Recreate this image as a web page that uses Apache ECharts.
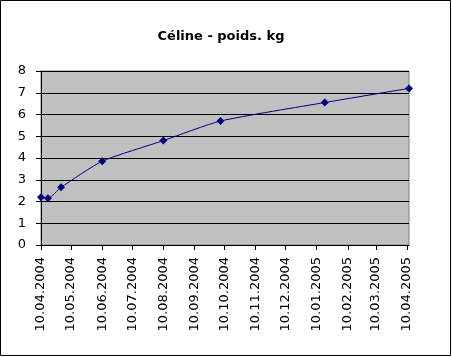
<!DOCTYPE html>
<html>
<head>
<meta charset="utf-8">
<script src="https://cdn.jsdelivr.net/npm/echarts@6/dist/echarts.min.js"></script>
<style>html,body{margin:0;padding:0;background:#fff}#c{width:452px;height:357px}</style>
</head>
<body>
<div id="c"></div>
<script>
const titleText = 'Céline - poids. kg';
const measureDates = ['10.04.2004','17.04.2004','30.04.2004','10.06.2004','10.08.2004','06.10.2004','18.01.2005','12.04.2005'];
const weights = [2.2, 2.15, 2.65, 3.85, 4.8, 5.7, 6.55, 7.2];
const tickLabels = ['10.04.2004','10.05.2004','10.06.2004','10.07.2004','10.08.2004','10.09.2004','10.10.2004','10.11.2004','10.12.2004','10.01.2005','10.02.2005','10.03.2005','10.04.2005'];
const axisMinDate = '10.04.2004';
const axisMaxDate = '12.04.2005';

const DAY = 86400000;
function parseD(s){ const p = s.split('.'); return Date.UTC(+p[2], +p[1]-1, +p[0]) / DAY; }
function fmt(v){ const d = new Date(Math.round(v) * DAY); const pad = n => (n<10?'0':'')+n; return pad(d.getUTCDate())+'.'+pad(d.getUTCMonth()+1)+'.'+d.getUTCFullYear(); }

const tickVals = tickLabels.map(parseD);
const seriesData = measureDates.map((d,i)=>[parseD(d), weights[i]]);
const font = 'DejaVu Sans, Liberation Sans, sans-serif';

const chart = echarts.init(document.getElementById('c'), null, {renderer:'canvas'});
chart.setOption({
  animation:false,
  backgroundColor:'#fff',
  title:{text:titleText,left:216,textAlign:'center',top:25,textStyle:{fontFamily:font,fontSize:13,fontWeight:'bold',color:'#000'}},
  graphic:[{type:'rect',shape:{x:0.5,y:0.5,width:450,height:355},style:{fill:'none',stroke:'#000',lineWidth:1},silent:true,z:-1}],
  grid:{left:41,top:71,right:43,bottom:112,show:true,backgroundColor:'#C0C0C0',borderColor:'#808080',borderWidth:1},
  xAxis:{
    type:'value',
    min:parseD(axisMinDate), max:parseD(axisMaxDate),
    axisLine:{lineStyle:{color:'#000',width:1}},
    axisTick:{show:true,length:5,lineStyle:{color:'#000'},customValues:tickVals},
    axisLabel:{rotate:90,margin:12,color:'#000',fontFamily:font,fontSize:13,customValues:tickVals,formatter:v=>fmt(v),showMinLabel:true,showMaxLabel:true},
    splitLine:{show:false}
  },
  yAxis:{
    type:'value',min:0,max:8,interval:1,
    axisLine:{show:true,lineStyle:{color:'#000',width:1}},
    axisTick:{show:true,length:5,lineStyle:{color:'#000'}},
    axisLabel:{margin:15,color:'#000',fontFamily:font,fontSize:13},
    splitLine:{show:true,lineStyle:{color:'#000',width:1}}
  },
  series:[{
    type:'line',data:seriesData,smooth:0.2,
    lineStyle:{color:'#000080',width:1},
    itemStyle:{color:'#000080'},
    symbol:'diamond',symbolSize:8,
    clip:false
  }]
});
</script>
</body>
</html>
